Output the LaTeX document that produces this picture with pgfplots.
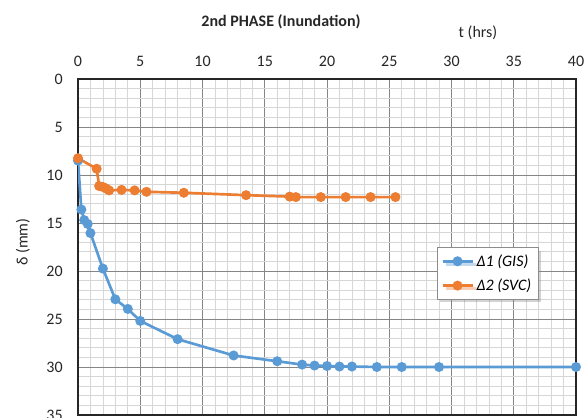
\documentclass[border=0pt]{standalone}
\usepackage{pgfplots}
\pgfplotsset{compat=1.18}
\usepackage{fontspec}
\setmainfont{Carlito}
\usetikzlibrary{shadows}

\definecolor{xlblue}{HTML}{5B9BD5}
\definecolor{xlorange}{HTML}{ED7D31}

\begin{document}
\begin{tikzpicture}
\begin{axis}[
    at={(0pt,0pt)}, anchor=south west,
    scale only axis,
    width=373.5pt, height=252pt,
    xmin=0, xmax=40,
    ymin=0, ymax=35,
    y dir=reverse,
    xtick={0,5,...,40},
    ytick={0,5,...,35},
    minor x tick num=4,
    minor y tick num=4,
    grid=both,
    major grid style={black!48, line width=0.6pt},
    minor grid style={black!16, line width=0.5pt},
    axis line style={black!85, line width=0.8pt},
    major tick length=0pt, minor tick length=0pt,
    xticklabel pos=upper,
    tick label style={font=\fontsize{12}{14}\selectfont, text=black!85},
    xticklabel style={yshift=6pt},
    yticklabel style={xshift=-8pt},
    /pgf/number format/assume math mode=true,
    legend cell align=left,
    legend style={at={(axis cs:28.83,17.55)}, anchor=north west,
        draw=black!45, fill=white, drop shadow={opacity=0.35},
        font=\fontsize{12}{14}\selectfont\itshape,
        inner sep=3pt, row sep=4pt},
    legend image code/.code={
        \draw[mark repeat=2,mark phase=2]
        plot coordinates {(0pt,0pt)(11.25pt,0pt)(22.5pt,0pt)};},
]
\addplot[color=xlblue, line width=2pt, mark=*, mark size=2.7pt,
    mark options={fill=xlblue, draw=xlblue}]
    coordinates {(0,8.5)(0.27,13.6)(0.5,14.7)(0.78,15.1)(1.0,16.05)
                 (2.0,19.75)(3.0,22.95)(4.0,23.95)(5.0,25.2)(8.0,27.1)
                 (12.5,28.8)(16.0,29.4)(18.0,29.75)(19.0,29.85)(20.0,29.9)
                 (21.0,29.95)(22.0,29.95)(24.0,30.0)(26.0,30.0)(29.0,30.0)
                 (40.0,30.0)};
\addplot[color=xlorange, line width=2pt, mark=*, mark size=2.7pt,
    mark options={fill=xlorange, draw=xlorange}]
    coordinates {(0,8.25)(1.5,9.35)(1.7,11.15)(2.0,11.25)(2.25,11.4)
                 (2.5,11.6)(3.5,11.55)(4.55,11.6)(5.5,11.75)(8.5,11.85)
                 (13.5,12.1)(17.0,12.25)(17.5,12.3)(19.5,12.3)(21.5,12.3)
                 (23.5,12.3)(25.5,12.3)};
\legend{Δ1 (GIS), Δ2 (SVC)}
\end{axis}
% pixel coordinates of the reference: origin top-left, axis corner at (78,415)
\begin{scope}[x=0.75pt, y=-0.75pt, shift={(-78,-415)}]
\node[font=\fontsize{12}{14}\selectfont\bfseries, text=black!85] at (281,22) {2nd PHASE (Inundation)};
\node[font=\fontsize{12}{14}\selectfont, text=black!85] at (478,33) {t (hrs)};
\node[font=\fontsize{12}{14}\selectfont, text=black!85, rotate=90] at (23,242) {δ (mm)};
\end{scope}
\pgfresetboundingbox
\useasboundingbox (-58.5pt,-1.5pt) rectangle (379.5pt,311.25pt);
\end{tikzpicture}
\end{document}
